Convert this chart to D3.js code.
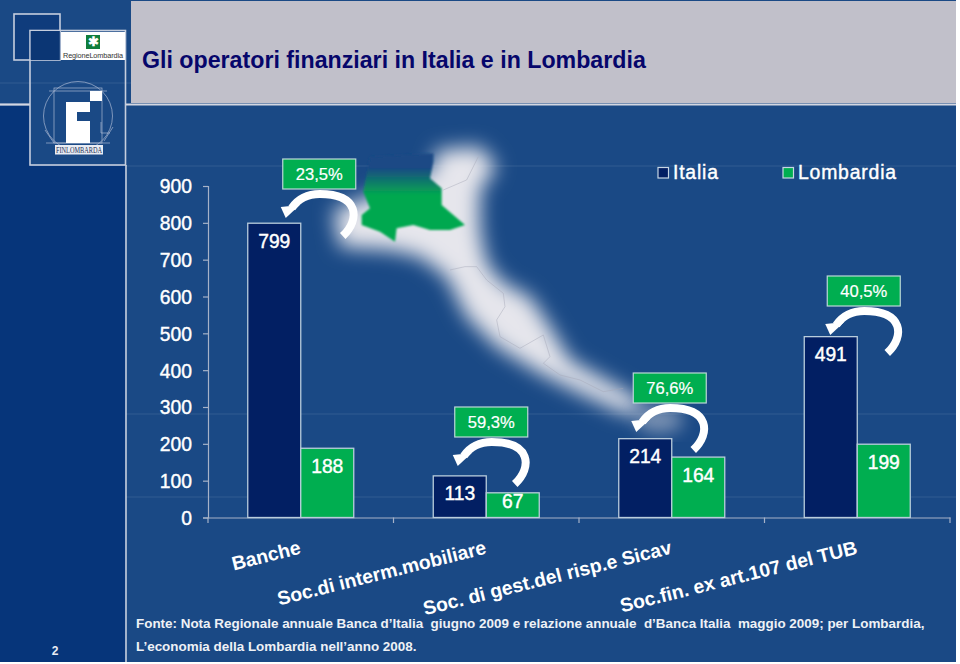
<!DOCTYPE html>
<html><head><meta charset="utf-8">
<script src="https://cdn.jsdelivr.net/npm/d3@7"></script>
<style>html,body{margin:0;padding:0;background:#fff}svg{display:block}text{font-family:"Liberation Sans",Arial,sans-serif}</style>
</head><body><div id="chart"></div>
<script>
const categories=["Banche","Soc.di interm.mobiliare","Soc. di gest.del risp.e Sicav","Soc.fin. ex art.107 del TUB"];
const italia=[799,113,214,491];
const lombardia=[188,67,164,199];
const shares=["23,5%","59,3%","76,6%","40,5%"];
const yTicks=[0,100,200,300,400,500,600,700,800,900];
const seriesNames=["Italia","Lombardia"];
const title="Gli operatori finanziari in Italia e in Lombardia";
const sourceLines=["Fonte: Nota Regionale annuale Banca d’Italia  giugno 2009 e relazione annuale  d’Banca Italia  maggio 2009; per Lombardia,","L’economia della Lombardia nell’anno 2008."];

const W=960,H=664,BG="#1a4985",DARK="#06357a",LINE="#c5cede",NAVY="#021f63",GREEN="#00ae50";
const svg=d3.select("#chart").append("svg").attr("width",W).attr("height",H);
const defs=svg.append("defs");
const blur=(id,s)=>defs.append("filter").attr("id",id).attr("x","-30%").attr("y","-30%").attr("width","160%").attr("height","160%").append("feGaussianBlur").attr("stdDeviation",s);
blur("b1",30);blur("b2",3);blur("b3",25);
const g=defs.append("linearGradient").attr("id","gr").attr("gradientUnits","userSpaceOnUse").attr("x1",200).attr("y1",30).attr("x2",200).attr("y2",180);
g.append("stop").attr("offset",0).attr("stop-color",BG);
g.append("stop").attr("offset",0.15).attr("stop-color",BG);
g.append("stop").attr("offset",0.7).attr("stop-color","#03a850");
g.append("stop").attr("offset",1).attr("stop-color","#03a850");

// slide background
svg.append("rect").attr("width",956).attr("height",662).attr("fill",BG);
svg.append("rect").attr("x",0).attr("y",106).attr("width",30).attr("height",60).attr("fill",DARK);
svg.append("rect").attr("x",0).attr("y",166).attr("width",125).attr("height",496).attr("fill",DARK);
svg.append("rect").attr("x",131).attr("y",1).attr("width",825).attr("height",102).attr("fill","#c1c0ca");
[[0,30,104.5],[125,956,104.5]].forEach(d=>svg.append("line").attr("x1",d[0]).attr("x2",d[1]).attr("y1",d[2]).attr("y2",d[2]).attr("stroke","#d3d7e2").attr("stroke-width",2.2));
svg.append("line").attr("x1",126).attr("x2",126).attr("y1",165).attr("y2",662).attr("stroke",LINE).attr("stroke-width",1.6);
[[0,131,83],[126,956,166],[126,956,414],[126,956,497]].forEach(d=>svg.append("line").attr("x1",d[0]).attr("x2",d[1]).attr("y1",d[2]).attr("y2",d[2]).attr("stroke","#fff").attr("stroke-opacity",0.1));

// logos
svg.append("rect").attr("x",14).attr("y",14).attr("width",46).attr("height",46).attr("fill","#0f3c7c").attr("stroke",LINE).attr("stroke-width",1.6);
svg.append("rect").attr("x",30).attr("y",30.5).attr("width",95.5).attr("height",134.5).attr("fill","none").attr("stroke",LINE).attr("stroke-width",1.6);
svg.append("rect").attr("x",30.8).attr("y",31).attr("width",29).attr("height",29).attr("fill","#0b3674");
svg.append("rect").attr("x",61).attr("y",32).attr("width",64).attr("height",28).attr("fill","#fff");
svg.append("rect").attr("x",86).attr("y",35).attr("width",14).attr("height",14).attr("fill","#0f7d3c");
svg.append("text").attr("x",93).attr("y",46).attr("text-anchor","middle").attr("font-size",13).attr("font-weight","bold").attr("fill","#fff").text("✱");
svg.append("text").attr("x",93).attr("y",58).attr("text-anchor","middle").attr("font-size",7.3).attr("textLength",60).attr("fill","#333").text("RegioneLombardia");
const lg=svg.append("g").attr("fill","none").attr("stroke","#a9b7d2").attr("stroke-width",0.7);
lg.append("circle").attr("cx",78).attr("cy",116).attr("r",34.5);
lg.append("rect").attr("x",54).attr("y",88).attr("width",48).attr("height",55);
lg.append("path").attr("d","M49 91H107M46 143H110M101 122V133H110M45 130L54 143M113 127L104 141");
svg.append("path").attr("d","M66 102H90V112H77V121H90V143H66Z").attr("fill","#fff");
svg.append("rect").attr("x",90).attr("y",91).attr("width",12).attr("height",10).attr("fill","#fff");
svg.append("rect").attr("x",55).attr("y",145).attr("width",48).attr("height",9.5).attr("fill","#e9ecf3");
svg.append("text").attr("x",79).attr("y",153).attr("text-anchor","middle").attr("font-size",8.6).attr("fill","#1a2c55").style("font-family","Liberation Serif").attr("textLength",46).attr("lengthAdjust","spacingAndGlyphs").text("FINLOMBARDA");

// title
svg.append("text").attr("x",142).attr("y",68).attr("font-size",23.2).attr("font-weight","bold").attr("fill","#06066b").text(title);

// map backdrop
const map=svg.append("g").attr("transform","translate(340,150) scale(0.3333)");
map.append("path").attr("d","M290 0L420 -10L470 50L420 120L420 240L440 340L490 400L570 440L630 530L690 630L780 680L870 730L930 790L850 790L720 730L600 670L470 590L380 500L320 380L240 320L150 300L0 290L-20 180L120 130L280 60Z").attr("fill","#e6e6ec").attr("filter","url(#b1)");
map.append("ellipse").attr("cx",960).attr("cy",810).attr("rx",70).attr("ry",40).attr("fill","#c8ccd8").attr("opacity",0.55).attr("filter","url(#b3)");
map.append("path").attr("d","M330 360L375 350L410 350L440 390L490 430L495 470L470 510L480 560L540 595L610 555L630 620L610 640L660 675L720 690L790 725L850 715M310 120L380 90L415 20").attr("fill","none").attr("stroke","#a4a6b6").attr("stroke-width",2.5).attr("opacity",0.55);
map.append("path").attr("d","M280 35L270 85L305 115L305 165L375 225L330 240L270 240L220 225L170 235L165 275L120 245L65 225L65 195L90 175L70 125L90 20L280 10Z").attr("fill","url(#gr)").attr("filter","url(#b2)");

// scales and axes
const band=d3.scaleBand().domain(categories).range([208,950]);
const x1=d3.scaleBand().domain(seriesNames).range([0,106]);
const y=d3.scaleLinear().domain([0,900]).range([517.5,186]);
const AX="#a6b2c8";
const yAxis=svg.append("g").attr("transform","translate(208,0)").call(d3.axisLeft(y).tickValues(yTicks).tickSize(5).tickPadding(11).tickFormat(d3.format("d")));
yAxis.selectAll("path,line").attr("stroke",AX).attr("stroke-width",1.2);
yAxis.selectAll("text").attr("fill","#fff").attr("stroke","#fff").attr("stroke-width",0.4).attr("font-size",19.3).style("font-family","Liberation Sans").attr("dy","0.36em");

const xAxis=svg.append("g").attr("transform","translate(0,517.5)").call(d3.axisBottom(band).tickSize(0).tickPadding(0));
xAxis.select("path").attr("stroke",AX).attr("stroke-width",1.2);
xAxis.selectAll("text").attr("fill","#fff").attr("font-size",19.4).attr("font-weight","bold").style("font-family","Liberation Sans")
  .attr("text-anchor","end").attr("dy",0).attr("y",0).attr("transform","translate(1,36) rotate(-14)");
d3.range(categories.length+1).forEach(i=>{const px=band.range()[0]+i*band.step();
  svg.append("line").attr("x1",px).attr("x2",px).attr("y1",517.5).attr("y2",523).attr("stroke",AX).attr("stroke-width",1.2);});

// bars
const cx=c=>band(c)+band.bandwidth()/2-53;
[[italia,"Italia",NAVY],[lombardia,"Lombardia",GREEN]].forEach(([vals,name,col])=>{
  svg.append("g").selectAll("rect").data(vals).join("rect")
    .attr("x",(d,i)=>cx(categories[i])+x1(name)).attr("y",d=>y(d))
    .attr("width",x1.bandwidth()).attr("height",d=>y(0)-y(d))
    .attr("fill",col).attr("stroke","#b9cddc").attr("stroke-width",1.3);
  svg.append("g").selectAll("text").data(vals).join("text")
    .attr("x",(d,i)=>cx(categories[i])+x1(name)+x1.bandwidth()/2)
    .attr("y",d=>y(d)+(d<100?15.5:24.5)).attr("text-anchor","middle")
    .attr("font-size",19.3).attr("stroke","#fff").attr("stroke-width",0.4).attr("fill","#fff").text(d=>d);
});

// share call-outs
const calloutDx=[18.5,5,-2,6.5], calloutTop=[159,407,373,276];
const lay=svg.append("g").selectAll("g").data(shares).join("g")
  .attr("transform",(d,i)=>`translate(${band(categories[i])+band.bandwidth()/2+calloutDx[i]-36.5},${calloutTop[i]})`);
lay.append("rect").attr("width",73).attr("height",30).attr("fill",GREEN).attr("stroke","#bcd8d8").attr("stroke-width",1.2);
lay.append("text").attr("x",36.5).attr("y",21).attr("text-anchor","middle").attr("font-size",16.6).attr("fill","#fff").attr("stroke","#fff").attr("stroke-width",0.2).text(d=>d);
lay.append("path").attr("d","M60 77C78 60 76 35 37 35C25 35 16 39 9 49").attr("fill","none").attr("stroke","#fff").attr("stroke-width",8);
lay.append("path").attr("d","M3 59L-2 48L17 46Z").attr("fill","#fff");

// legend
const lx=[658,783];
seriesNames.forEach((n,i)=>{
  svg.append("rect").attr("x",lx[i]).attr("y",167.5).attr("width",10.5).attr("height",10.5).attr("fill",i?GREEN:NAVY).attr("stroke","#c6d6e4").attr("stroke-width",1.2);
  svg.append("text").attr("x",lx[i]+15).attr("y",179).attr("font-size",19.4).attr("letter-spacing",0.8).attr("stroke","#fff").attr("stroke-width",0.4).attr("fill","#fff").text(n);
});

// footer
sourceLines.forEach((t,i)=>svg.append("text").attr("x",136).attr("y",628+i*22.5).attr("font-size",13.43).attr("font-weight","bold").attr("fill","#eef1f6").style("white-space","pre").text(t));
svg.append("text").attr("x",55).attr("y",655).attr("text-anchor","middle").attr("font-size",12).attr("font-weight","bold").attr("fill","#e8ecf4").text("2");
</script></body></html>
